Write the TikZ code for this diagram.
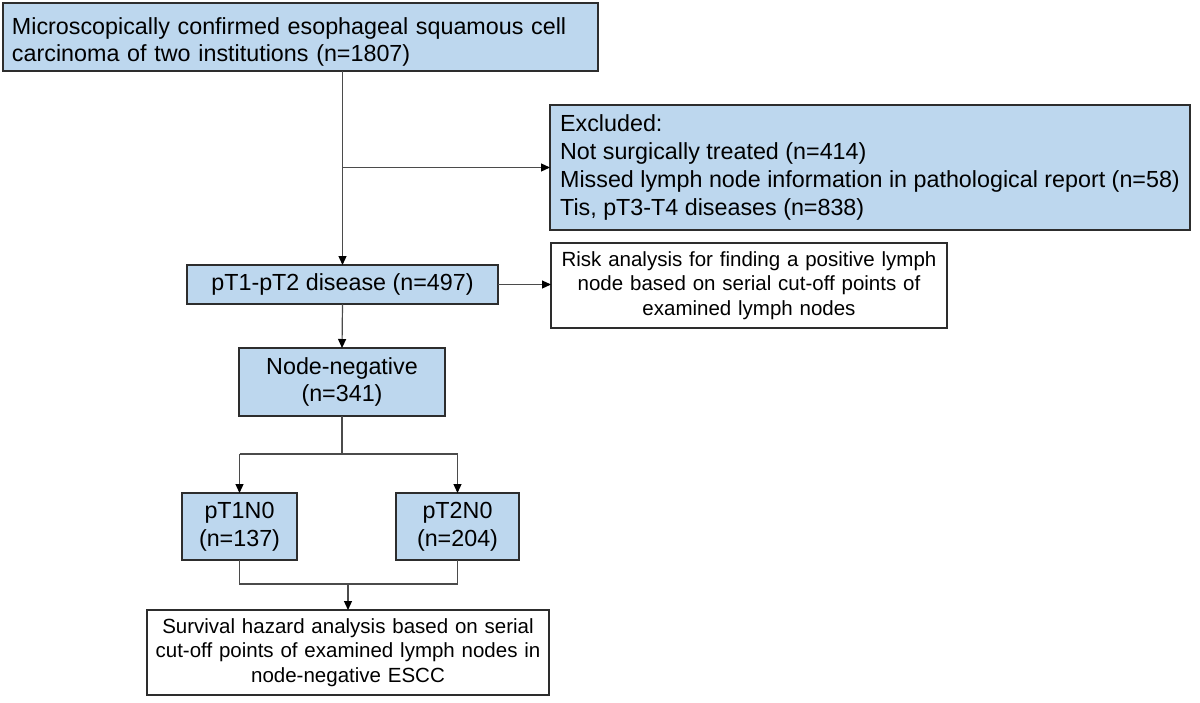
\documentclass[tikz,border=0pt]{standalone}
\usepackage{fontspec}
\setmainfont{Liberation Sans}
\usetikzlibrary{arrows.meta}
\definecolor{boxblue}{RGB}{189,215,238}
\definecolor{edge}{RGB}{45,45,45}
\definecolor{conn}{RGB}{75,75,75}
\begin{document}
\begin{tikzpicture}[x=1pt,y=-1pt,
  box/.style={draw=edge,line width=1.4pt,rectangle,inner sep=0pt,outer sep=0pt},
  blue/.style={box,fill=boxblue},
  white/.style={box,fill=white},
  big/.style={font=\fontsize{23.3}{27.7}\selectfont},
  small/.style={font=\fontsize{20.5}{24.5}\selectfont},
  line/.style={draw=conn,line width=1.2pt},
  arr/.style={line,-{Triangle[length=9pt,width=8pt,color=black]}}]
\useasboundingbox (0,0) rectangle (1200,702);
\node[blue,big,minimum width=595pt,minimum height=68pt,text width=577pt,align=left] (top) at (300.5,37)
  {\rule{0pt}{27pt}Microscopically confirmed esophageal squamous cell\\carcinoma of two institutions (n=1807)};
\node[blue,big,minimum width=640pt,minimum height=125pt,align=left] (excl) at (870,167.5)
  {Excluded:\\Not surgically treated (n=414)\\Missed lymph node information in pathological report (n=58)\\Tis, pT3-T4 diseases (n=838)};
\node[blue,big,minimum width=311pt,minimum height=39pt,align=center] (pt12) at (342.5,284.5)
  {pT1-pT2 disease (n=497)};
\node[white,small,minimum width=396pt,minimum height=85pt,text width=390pt,align=center] (risk) at (749,285.5)
  {Risk analysis for finding a positive lymph\\node based on serial cut-off points of\\examined lymph nodes};
\node[blue,big,minimum width=206pt,minimum height=68pt,text width=200pt,align=center] (nn) at (342,382)
  {Node-negative\\(n=341)};
\node[blue,big,minimum width=115pt,minimum height=67pt,text width=112pt,align=center] (t1) at (239.5,526.5)
  {pT1N0\\(n=137)};
\node[blue,big,minimum width=123pt,minimum height=67pt,text width=120pt,align=center] (t2) at (457.5,526.5)
  {pT2N0\\(n=204)};
\node[white,small,minimum width=402pt,minimum height=85pt,text width=396pt,align=center] (surv) at (348,652.5)
  {Survival hazard analysis based on serial\\cut-off points of examined lymph nodes in\\node-negative ESCC};
% connectors
\draw[arr] (top.south -| pt12.north) -- (pt12.north);
\draw[arr] (pt12.north |- excl.west) -- (excl.west);
\draw[arr] (pt12.east) -- (pt12.east -| risk.west);
\draw[arr] (pt12.south) -- (nn.north);
\draw[line] (nn.south) -- ++(0,38) coordinate (split);
\draw[line] (split -| t1.north) -- (split -| t2.north);
\draw[arr] (split -| t1.north) -- (t1.north);
\draw[arr] (split -| t2.north) -- (t2.north);
\draw[line] (t1.south) -- ++(0,24) coordinate (merge) -| (t2.south);
\draw[arr] (merge -| surv.north) -- (surv.north);
\end{tikzpicture}
\end{document}
